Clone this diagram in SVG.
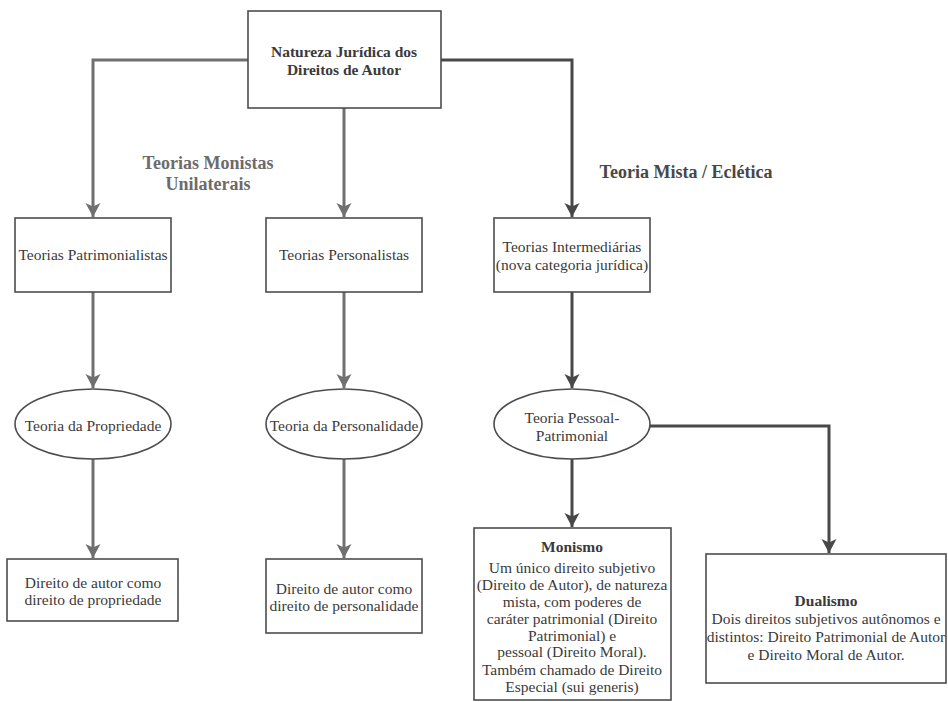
<svg xmlns="http://www.w3.org/2000/svg" width="948" height="702" viewBox="0 0 948 702">
<style>
.box{fill:#fff;stroke:#4d4d4d;stroke-width:1.6}
.t{font-family:'Liberation Serif','DejaVu Serif','Noto Serif',serif;font-size:15.5px;fill:#3a3a3a;text-anchor:middle}
.b{font-weight:bold}
.lbl{font-family:'Liberation Serif','DejaVu Serif','Noto Serif',serif;font-size:18px;font-weight:bold;text-anchor:middle}
.cg{fill:none;stroke:#707070;stroke-width:3}
.cd{fill:none;stroke:#484848;stroke-width:3}
</style>
<defs>
<marker id="ag" markerUnits="userSpaceOnUse" markerWidth="16" markerHeight="16" refX="14" refY="7.5" orient="auto"><path d="M0,0 L14,7.5 L0,15 L3.5,7.5 Z" fill="#707070"/></marker>
<marker id="ad" markerUnits="userSpaceOnUse" markerWidth="16" markerHeight="16" refX="14" refY="7.5" orient="auto"><path d="M0,0 L14,7.5 L0,15 L3.5,7.5 Z" fill="#484848"/></marker>
</defs>
<rect width="948" height="702" fill="#fff"/>
<g id="connectors">
<path class="cg" d="M248,60 H93 V217" marker-end="url(#ag)"/>
<path class="cg" d="M344,108 V217" marker-end="url(#ag)"/>
<path class="cd" d="M441,60 H572 V217" marker-end="url(#ad)"/>
<path class="cg" d="M93,292 V388" marker-end="url(#ag)"/>
<path class="cg" d="M344,292 V388" marker-end="url(#ag)"/>
<path class="cd" d="M572,292 V388" marker-end="url(#ad)"/>
<path class="cg" d="M93,459 V558" marker-end="url(#ag)"/>
<path class="cg" d="M344,459 V558" marker-end="url(#ag)"/>
<path class="cd" d="M572,459 V527" marker-end="url(#ad)"/>
<path class="cd" d="M650,426 H829 V553" marker-end="url(#ad)"/>
</g>
<g id="labels" font-family="Liberation Serif, serif">
<text class="lbl" fill="#6b6b6b" x="208" y="169">Teorias Monistas</text>
<text class="lbl" fill="#6b6b6b" x="208" y="190">Unilaterais</text>
<text class="lbl" fill="#474747" x="686" y="178">Teoria Mista / Eclética</text>
</g>
<g id="root">
<rect class="box" x="248" y="11" width="193" height="97"/>
<text class="t b" x="344" y="57">Natureza Jurídica dos</text>
<text class="t b" x="344" y="75">Direitos de Autor</text>
</g>
<g id="patrimonialistas">
<rect class="box" x="15" y="218" width="156" height="74"/>
<text class="t" x="93" y="260">Teorias Patrimonialistas</text>
</g>
<g id="personalistas">
<rect class="box" x="266" y="218" width="156" height="74"/>
<text class="t" x="344" y="260">Teorias Personalistas</text>
</g>
<g id="intermediarias">
<rect class="box" x="494" y="218" width="156" height="74"/>
<text class="t" x="572" y="252">Teorias Intermediárias</text>
<text class="t" x="572" y="270">(nova categoria jurídica)</text>
</g>
<g id="propriedade">
<ellipse class="box" cx="93" cy="424" rx="78" ry="35"/>
<text class="t" x="93" y="431">Teoria da Propriedade</text>
</g>
<g id="personalidade">
<ellipse class="box" cx="344" cy="424" rx="78" ry="35"/>
<text class="t" x="344" y="431">Teoria da Personalidade</text>
</g>
<g id="pessoal-patrimonial">
<ellipse class="box" cx="572" cy="424" rx="78" ry="35"/>
<text class="t" x="572" y="423">Teoria Pessoal-</text>
<text class="t" x="572" y="441">Patrimonial</text>
</g>
<g id="dir-propriedade">
<rect class="box" x="7" y="559" width="171" height="62"/>
<text class="t" x="93" y="588">Direito de autor como</text>
<text class="t" x="93" y="605">direito de propriedade</text>
</g>
<g id="dir-personalidade">
<rect class="box" x="266" y="559" width="156" height="74"/>
<text class="t" x="344" y="594">Direito de autor como</text>
<text class="t" x="344" y="611">direito de personalidade</text>
</g>
<g id="monismo">
<rect class="box" x="474" y="528" width="197" height="172"/>
<text class="t b" x="572" y="552">Monismo</text>
<text class="t" x="572" y="573">Um único direito subjetivo</text>
<text class="t" x="572" y="590">(Direito de Autor), de natureza</text>
<text class="t" x="572" y="607">mista, com poderes de</text>
<text class="t" x="572" y="624">caráter patrimonial (Direito</text>
<text class="t" x="572" y="641">Patrimonial) e</text>
<text class="t" x="572" y="657">pessoal (Direito Moral).</text>
<text class="t" x="572" y="675">Também chamado de Direito</text>
<text class="t" x="572" y="692">Especial (sui generis)</text>
</g>
<g id="dualismo">
<rect class="box" x="706" y="554" width="240" height="129"/>
<text class="t b" x="826" y="606">Dualismo</text>
<text class="t" x="826" y="624">Dois direitos subjetivos autônomos e</text>
<text class="t" x="826" y="642">distintos: Direito Patrimonial de Autor</text>
<text class="t" x="826" y="660">e Direito Moral de Autor.</text>
</g>
</svg>
